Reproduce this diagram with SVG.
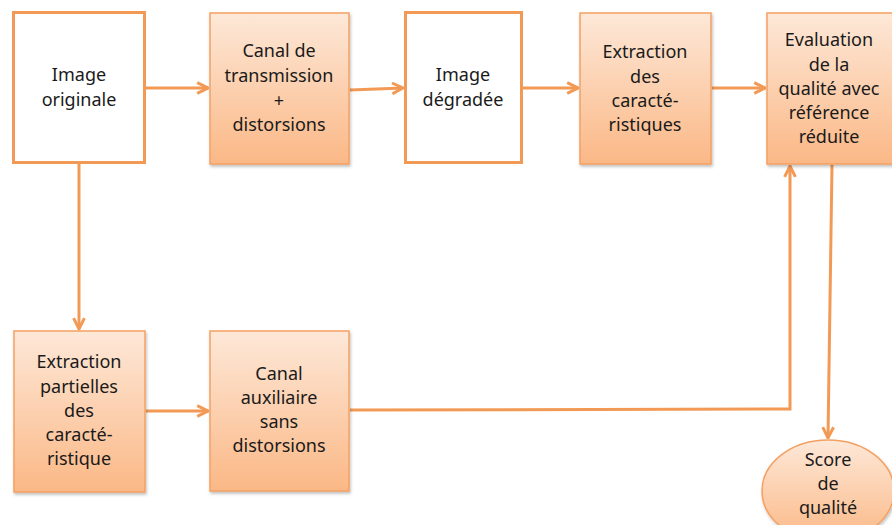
<svg xmlns="http://www.w3.org/2000/svg" width="892" height="525" viewBox="0 0 892 525">
  <defs>
    <linearGradient id="peach" x1="0" y1="0" x2="0" y2="1">
      <stop offset="0" stop-color="#fde8d8"/>
      <stop offset="1" stop-color="#fbb886"/>
    </linearGradient>
    <filter id="shadow" x="-10%" y="-10%" width="120%" height="120%">
      <feDropShadow dx="1" dy="2" stdDeviation="1.5" flood-color="#000" flood-opacity="0.25"/>
    </filter>
    <marker id="arrow" viewBox="0 0 10 10" refX="9" refY="5" markerWidth="4.5" markerHeight="4.5" orient="auto">
      <path d="M1,1 L9,5 L1,9" fill="none" stroke="#f29a55" stroke-width="2.2"/>
    </marker>
  </defs>
  <style>
    .plain { fill: #ffffff; stroke: #f29a55; stroke-width: 3; }
    .fill { fill: url(#peach); stroke: #f5a062; stroke-width: 1.5; filter: url(#shadow); }
    .lbl { font-family: "Comic Sans MS", "Noto Sans", "DejaVu Sans", sans-serif; font-size: 18px; fill: #1a1a1a; text-anchor: middle; }
    .conn { fill: none; stroke: #f29a55; stroke-width: 3; marker-end: url(#arrow); }
  </style>

  <rect width="892" height="525" fill="#ffffff"/>

  <g id="connectors">
    <line class="conn" x1="146" y1="88" x2="208" y2="88"/>
    <line class="conn" x1="350" y1="90" x2="403" y2="88"/>
    <line class="conn" x1="523" y1="88" x2="578" y2="88"/>
    <line class="conn" x1="712" y1="88" x2="765" y2="88"/>
    <line class="conn" x1="79" y1="164" x2="79" y2="329"/>
    <line class="conn" x1="146" y1="411" x2="208" y2="411"/>
    <polyline class="conn" points="350,410 790,409 790,166"/>
    <line class="conn" x1="832" y1="165" x2="828" y2="438"/>
  </g>

  <g id="image-originale">
    <rect class="plain" x="13.5" y="12.5" width="131" height="150"/>
    <text class="lbl" x="79" y="81">Image</text>
    <text class="lbl" x="79" y="106">originale</text>
  </g>

  <g id="canal-transmission">
    <rect class="fill" x="210" y="13" width="139" height="151"/>
    <text class="lbl" x="279" y="57">Canal de</text>
    <text class="lbl" x="279" y="82">transmission</text>
    <text class="lbl" x="279" y="107">+</text>
    <text class="lbl" x="279" y="131">distorsions</text>
  </g>

  <g id="image-degradee">
    <rect class="plain" x="405.5" y="12.5" width="116" height="150"/>
    <text class="lbl" x="463" y="81">Image</text>
    <text class="lbl" x="463" y="106">dégradée</text>
  </g>

  <g id="extraction">
    <rect class="fill" x="580" y="13" width="131" height="151"/>
    <text class="lbl" x="645" y="58">Extraction</text>
    <text class="lbl" x="645" y="83">des</text>
    <text class="lbl" x="645" y="107">caracté-</text>
    <text class="lbl" x="645" y="131">ristiques</text>
  </g>

  <g id="evaluation">
    <rect class="fill" x="767" y="13" width="130" height="151"/>
    <text class="lbl" x="829" y="46">Evaluation</text>
    <text class="lbl" x="829" y="71">de la</text>
    <text class="lbl" x="829" y="95">qualité avec</text>
    <text class="lbl" x="829" y="119">référence</text>
    <text class="lbl" x="829" y="143">réduite</text>
  </g>

  <g id="extraction-partielle">
    <rect class="fill" x="14" y="331" width="131" height="161"/>
    <text class="lbl" x="79" y="368">Extraction</text>
    <text class="lbl" x="79" y="393">partielles</text>
    <text class="lbl" x="79" y="417">des</text>
    <text class="lbl" x="79" y="441">caracté-</text>
    <text class="lbl" x="79" y="465">ristique</text>
  </g>

  <g id="canal-auxiliaire">
    <rect class="fill" x="210" y="331" width="139" height="160"/>
    <text class="lbl" x="279" y="380">Canal</text>
    <text class="lbl" x="279" y="404">auxiliaire</text>
    <text class="lbl" x="279" y="428">sans</text>
    <text class="lbl" x="279" y="452">distorsions</text>
  </g>

  <g id="score">
    <ellipse class="fill" cx="828" cy="491" rx="66" ry="51"/>
    <text class="lbl" x="828" y="466">Score</text>
    <text class="lbl" x="828" y="490">de</text>
    <text class="lbl" x="828" y="514">qualité</text>
  </g>
</svg>
